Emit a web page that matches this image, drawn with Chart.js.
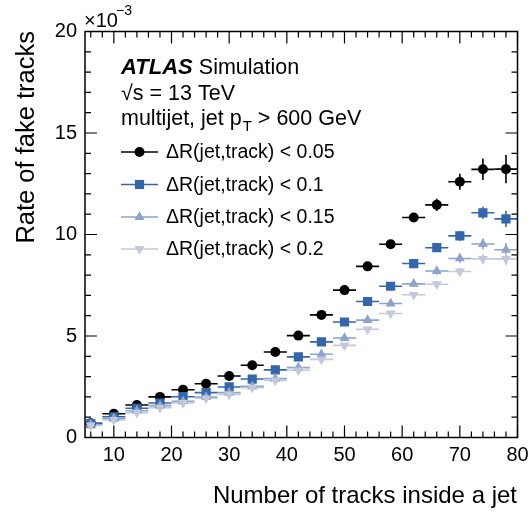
<!DOCTYPE html>
<html><head><meta charset="utf-8">
<script src="https://cdn.jsdelivr.net/npm/chart.js@4.4.1/dist/chart.umd.min.js"></script>
<style>html,body{margin:0;padding:0;background:#fff}#wrap{width:531px;height:516px;position:relative}</style>
</head><body><div id="wrap"><canvas id="c" width="531" height="516"></canvas></div>
<script>
// ---- data (rates in units of 10^-3) ----
const binCenters = [6,10,14,18,22,26,30,34,38,42,46,50,54,58,62,66,70,74,78];
const binHalfWidth = 2;
const rateDR005 = [0.70,1.17,1.60,2.00,2.35,2.65,3.03,3.56,4.21,5.02,6.04,7.26,8.43,9.52,10.84,11.46,12.60,13.21,13.22];
const errDR005  = [0.03,0.03,0.04,0.04,0.05,0.05,0.06,0.06,0.07,0.08,0.09,0.10,0.12,0.15,0.20,0.30,0.39,0.53,0.70];
const rateDR01  = [0.68,1.02,1.44,1.70,2.01,2.21,2.49,2.88,3.33,3.97,4.71,5.69,6.70,7.45,8.57,9.35,9.93,11.07,10.77];
const errDR01   = [0.03,0.03,0.03,0.04,0.04,0.05,0.05,0.06,0.06,0.07,0.08,0.09,0.11,0.13,0.17,0.20,0.24,0.30,0.40];
const rateDR015 = [0.63,0.95,1.32,1.57,1.78,1.99,2.21,2.52,2.90,3.44,4.10,4.90,5.78,6.60,7.57,8.20,8.82,9.53,9.25];
const errDR015  = [0.03,0.03,0.03,0.04,0.04,0.04,0.05,0.05,0.06,0.07,0.08,0.09,0.10,0.12,0.15,0.18,0.22,0.27,0.33];
const rateDR02  = [0.59,0.87,1.22,1.47,1.70,1.93,2.12,2.45,2.81,3.31,3.85,4.54,5.33,6.11,7.03,7.55,8.18,8.80,8.80];
const errDR02   = [0.03,0.03,0.03,0.04,0.04,0.04,0.05,0.05,0.06,0.06,0.07,0.08,0.10,0.11,0.14,0.17,0.20,0.25,0.30];
const seriesLabels = ['\u0394R(jet,track) < 0.05','\u0394R(jet,track) < 0.1','\u0394R(jet,track) < 0.15','\u0394R(jet,track) < 0.2'];
const xTickLabels = [10,20,30,40,50,60,70,80];
const yTickLabels = [0,5,10,15,20];

const FONT = '"Liberation Sans", Arial, Helvetica, sans-serif';
const styles = [
  {color:'#000000', pointStyle:'circle',   rotation:0,   radius:5.0},
  {color:'#3366aa', pointStyle:'rect',     rotation:0,   radius:6.5},
  {color:'#8ba3cd', pointStyle:'triangle', rotation:0,   radius:5.8},
  {color:'#c2c9da', pointStyle:'triangle', rotation:180, radius:5.8}
];
const rates = [rateDR005, rateDR01, rateDR015, rateDR02];
const errs  = [errDR005, errDR01, errDR015, errDR02];

const datasets = rates.map((r, k) => ({
  label: seriesLabels[k],
  data: binCenters.map((x, i) => ({x: x, y: r[i]})),
  errors: errs[k],
  pointStyle: styles[k].pointStyle,
  rotation: styles[k].rotation,
  pointRadius: styles[k].radius,
  pointHoverRadius: styles[k].radius,
  backgroundColor: styles[k].color,
  borderColor: styles[k].color,
  pointBorderWidth: 0,
  showLine: false,
  order: 4 - k
}));

const decor = {
  id: 'decor',
  beforeDatasetsDraw(chart) {
    const ctx = chart.ctx, xs = chart.scales.x, ys = chart.scales.y, a = chart.chartArea;
    ctx.save();
    ctx.beginPath(); ctx.rect(a.left, a.top, a.right - a.left, a.bottom - a.top); ctx.clip();
    for (let k = 0; k < chart.data.datasets.length; k++) {
      const ds = chart.data.datasets[k];
      ctx.strokeStyle = ds.borderColor; ctx.lineWidth = 1.6;
      ds.data.forEach((p, i) => {
        const px = xs.getPixelForValue(p.x), py = ys.getPixelForValue(p.y);
        ctx.beginPath();
        ctx.moveTo(xs.getPixelForValue(p.x - binHalfWidth), py);
        ctx.lineTo(xs.getPixelForValue(p.x + binHalfWidth), py);
        const e = ds.errors[i];
        ctx.moveTo(px, ys.getPixelForValue(p.y - e));
        ctx.lineTo(px, ys.getPixelForValue(p.y + e));
        ctx.stroke();
      });
    }
    ctx.restore();
  },
  afterDraw(chart) {
    const ctx = chart.ctx, xs = chart.scales.x, ys = chart.scales.y, a = chart.chartArea;
    ctx.save();
    // frame
    ctx.strokeStyle = '#000'; ctx.lineWidth = 1.5;
    ctx.strokeRect(a.left, a.top, a.right - a.left, a.bottom - a.top);
    ctx.lineWidth = 1.2;
    ctx.beginPath();
    for (let v = 6; v <= 80; v += 2) {
      const len = (v % 10 === 0) ? 12 : 6;
      const px = xs.getPixelForValue(v);
      ctx.moveTo(px, a.bottom); ctx.lineTo(px, a.bottom - len);
      ctx.moveTo(px, a.top); ctx.lineTo(px, a.top + len);
    }
    for (let v = 1; v < 20; v += 1) {
      const len = (v % 5 === 0) ? 12 : 6;
      const py = ys.getPixelForValue(v);
      ctx.moveTo(a.left, py); ctx.lineTo(a.left + len, py);
      ctx.moveTo(a.right, py); ctx.lineTo(a.right - len, py);
    }
    ctx.stroke();

    ctx.fillStyle = '#000';
    // exponent
    ctx.textBaseline = 'alphabetic'; ctx.textAlign = 'left';
    ctx.font = '20px ' + FONT;
    ctx.fillText('\u00d710', 84, 27);
    ctx.font = '14px ' + FONT;
    ctx.fillText('\u22123', 116, 15);

    // axis titles
    ctx.font = '24px ' + FONT;
    ctx.textAlign = 'right';
    ctx.fillText('Number of tracks inside a jet', 517, 503);
    ctx.save();
    ctx.font = '25.5px ' + FONT;
    ctx.translate(34, 31); ctx.rotate(-Math.PI / 2);
    ctx.fillText('Rate of fake tracks', 0, 0);
    ctx.restore();

    // ATLAS label
    ctx.textAlign = 'left';
    ctx.font = 'italic bold 22px ' + FONT;
    ctx.fillText('ATLAS', 121, 74);
    const w = ctx.measureText('ATLAS ').width;
    ctx.font = '21.5px ' + FONT;
    ctx.fillText('Simulation', 121 + w, 74);
    ctx.fillText('\u221As = 13 TeV', 121, 100);
    let t = 'multijet, jet p';
    ctx.fillText(t, 121, 125);
    let x0 = 121 + ctx.measureText(t).width;
    ctx.font = '15px ' + FONT;
    ctx.fillText('T', x0 + 1, 131);
    x0 += 1 + ctx.measureText('T').width + 6;
    ctx.font = '21.5px ' + FONT;
    ctx.fillText('> 600 GeV', x0, 125);

    // legend
    const legY = [152, 184.5, 217, 249];
    ctx.font = '19.5px ' + FONT;
    ctx.textBaseline = 'middle';
    chart.data.datasets.forEach((ds, k) => {
      const y = legY[k];
      ctx.strokeStyle = ds.borderColor; ctx.lineWidth = 1.6;
      ctx.beginPath(); ctx.moveTo(121, y); ctx.lineTo(158, y); ctx.stroke();
      ctx.fillStyle = ds.backgroundColor;
      Chart.helpers.drawPoint(ctx, {pointStyle: ds.pointStyle, rotation: ds.rotation, radius: ds.pointRadius, borderWidth: 0}, 139.5, y);
      ctx.fillStyle = '#000';
      ctx.fillText(ds.label, 166, y + 1);
    });
    ctx.restore();
  }
};

new Chart(document.getElementById('c'), {
  type: 'scatter',
  data: {datasets: datasets},
  options: {
    responsive: false,
    animation: false,
    devicePixelRatio: 1,
    layout: {padding: {left: 0, top: 31.5, right: 13.5, bottom: 0}},
    plugins: {legend: {display: false}, tooltip: {enabled: false}},
    scales: {
      x: {
        type: 'linear', min: 5, max: 80,
        afterBuildTicks: s => { s.ticks = xTickLabels.map(v => ({value: v})); },
        afterFit: s => { s.height = 78.5; s.paddingLeft = 0; s.paddingRight = 0; },
        grid: {display: false, drawTicks: false},
        border: {display: false},
        ticks: {font: {family: FONT, size: 20}, color: '#000', padding: 6, maxRotation: 0, autoSkip: false}
      },
      y: {
        type: 'linear', min: 0, max: 20,
        afterBuildTicks: s => { s.ticks = yTickLabels.map(v => ({value: v})); },
        afterFit: s => { s.width = 85; s.paddingTop = 0; s.paddingBottom = 0; },
        grid: {display: false, drawTicks: false},
        border: {display: false},
        ticks: {font: {family: FONT, size: 20}, color: '#000', padding: 8, autoSkip: false}
      }
    }
  },
  plugins: [decor]
});
</script>
</body></html>
